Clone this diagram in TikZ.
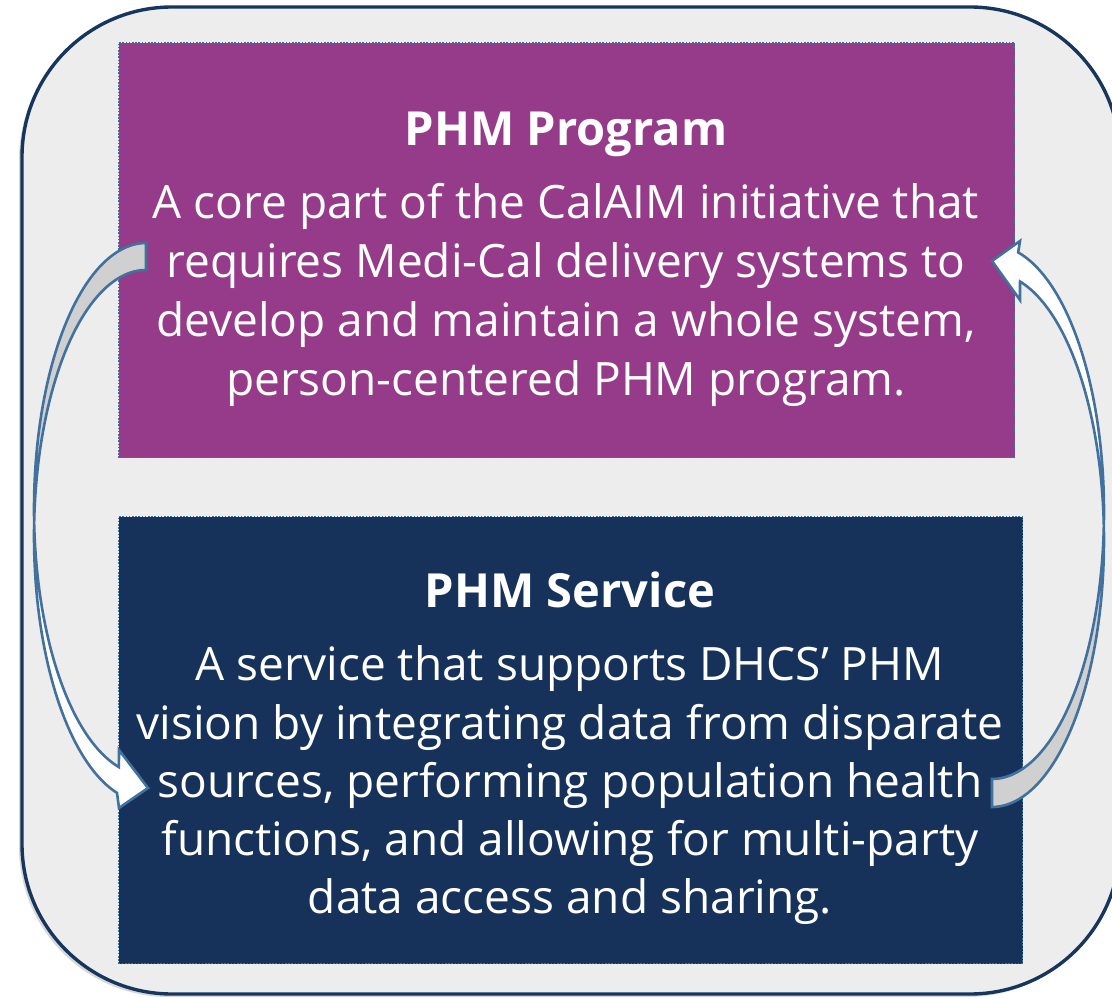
\documentclass[tikz,border=0pt]{standalone}
\usepackage{fontspec}
\setmainfont{Open Sans}
\usetikzlibrary{shadows}

\definecolor{panel}{HTML}{EDEDED}
\definecolor{frame}{HTML}{17365D}
\definecolor{plum}{HTML}{963A8A}
\definecolor{navy}{HTML}{16325B}
\definecolor{edge}{HTML}{41719C}
\definecolor{backface}{HTML}{D0D0D0}

% outlines of the two curved arrows (y runs downward)
\def\downarrowpath{(146,243)
  -- plot[domain=270:104,samples=90] ({146+112*cos(\x)},{509+266*sin(\x)})
  -- (119,750) -- (148,788) -- (119,808)
  -- plot[domain=105:270,samples=90] ({146+112*cos(\x)},{536+266*sin(\x)})
  -- cycle}
\def\uparrowpath{(992,807)
  -- plot[domain=90:-75.5,samples=90] ({992+112*cos(\x)},{540+267*sin(\x)})
  -- (1020,300) -- (992,261) -- (1020,241)
  -- plot[domain=-76.5:90,samples=90] ({992+112*cos(\x)},{512+267*sin(\x)})
  -- cycle}

\begin{document}
\begin{tikzpicture}[x=1pt,y=-1pt,
  box/.style={draw=edge, line width=1.3pt, dash pattern=on 1.6pt off 1.6pt,
    inner sep=0pt, anchor=north west},
  txt/.style={text=white, inner sep=0pt, anchor=base,
    font=\fontsize{46}{59}\selectfont},
  ttl/.style={txt, font=\fontsize{47}{59}\selectfont\bfseries},
  arrowline/.style={draw=edge, line width=2.6pt, line join=miter}]
\useasboundingbox (0,0) rectangle (1112,998);
\clip (0,0) rectangle (1112,998);
\fill[white] (0,0) rectangle (1112,998);

% outer panel
\draw[fill=panel, draw=frame, line width=3.4pt, rounded corners=150pt,
  drop shadow={shadow xshift=-3pt, shadow yshift=-3pt, opacity=0.3}]
  (22,7) rectangle (1120,994);

% the two boxes
\node[box, fill=plum, minimum width=896pt, minimum height=415pt] (program) at (118,42) {};
\node[box, fill=navy, minimum width=904pt, minimum height=447pt] (service) at (118,516) {};

% box texts
\node[ttl] (pt) at (566,146) {PHM Program};
\node[txt] (p1) at (566,218) {A core part of the CalAIM initiative that};
\node[txt] (p2) at (566,277) {requires Medi-Cal delivery systems to};
\node[txt] (p3) at (566,336) {develop and maintain a whole system,};
\node[txt] (p4) at (566,395) {person-centered PHM program.};

\node[ttl] (st) at (570,607) {PHM Service};
\node[txt] (s1) at (570,680) {A service that supports DHCS’ PHM};
\node[txt] (s2) at (570,739) {vision by integrating data from disparate};
\node[txt] (s3) at (570,797) {sources, performing population health};
\node[txt] (s4) at (570,855) {functions, and allowing for multi-party};
\node[txt] (s5) at (570,913) {data access and sharing.};

% left arrow: program -> service
\fill[white] \downarrowpath;
\begin{scope}
  \clip (0,0) rectangle (1112,522);
  \fill[backface] \downarrowpath;
\end{scope}
\draw[arrowline] \downarrowpath;

% right arrow: service -> program
\fill[white] \uparrowpath;
\begin{scope}
  \clip (0,526) rectangle (1112,998);
  \fill[backface] \uparrowpath;
\end{scope}
\draw[arrowline] \uparrowpath;
\end{tikzpicture}
\end{document}
